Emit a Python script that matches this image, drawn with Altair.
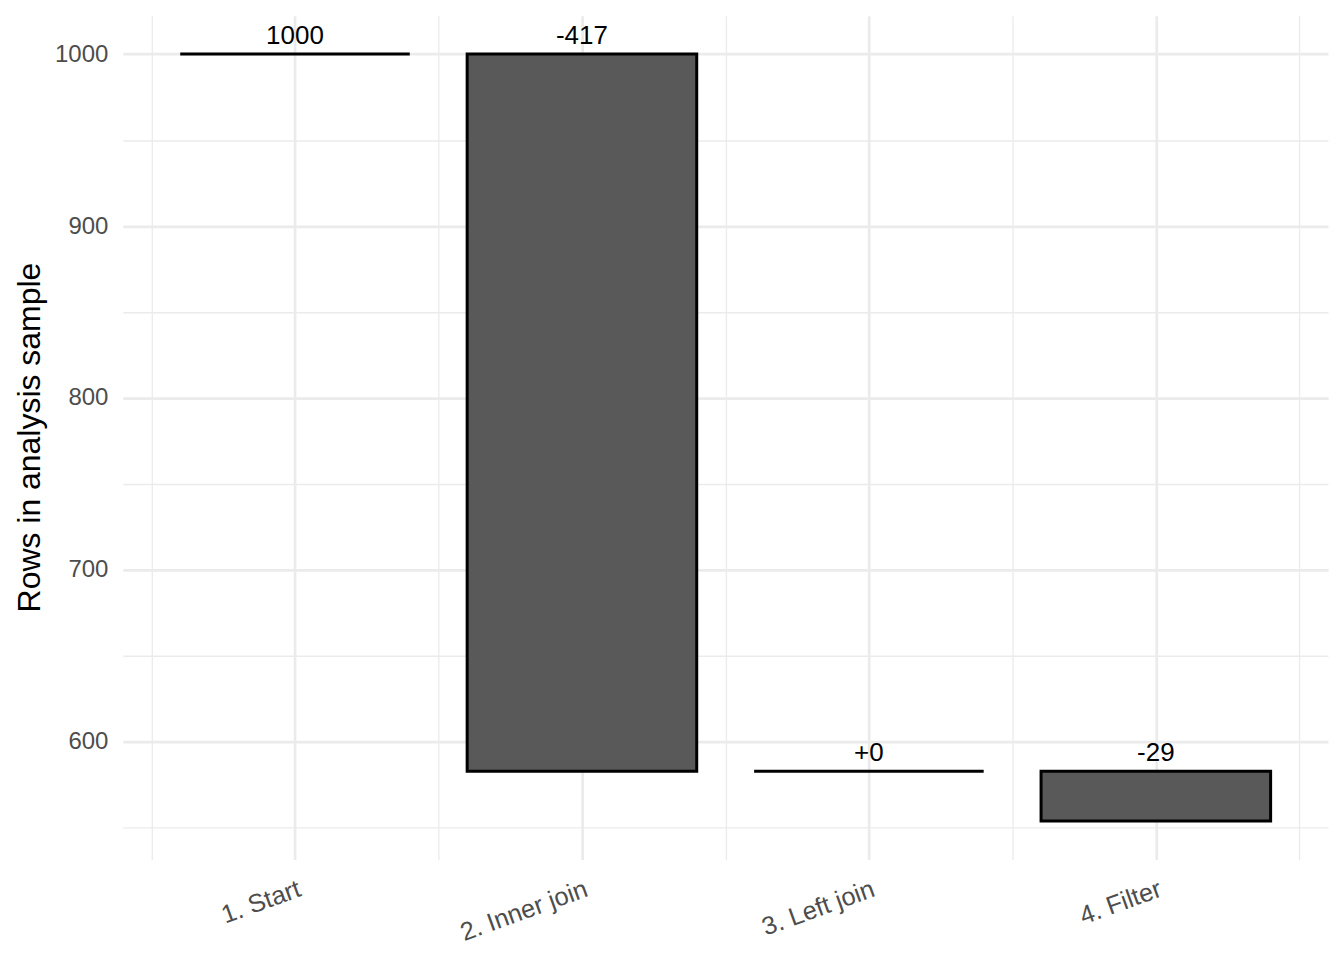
import altair as alt
import pandas as pd

# ---- data ----
steps = ["1. Start", "2. Inner join", "3. Left join", "4. Filter"]
rows_after = [1000, 583, 583, 554]

# ---- derived table ----
recs = []
prev = None
for i, (name, r) in enumerate(zip(steps, rows_after)):
    pos = i + 1
    if prev is None:
        start, label = r, str(r)
    else:
        start = prev
        d = r - prev
        label = f"{d:+d}"
    recs.append({
        "step": name, "pos": pos,
        "x0": pos - 0.4, "x1": pos + 0.4,
        "y0": start, "y1": r,
        "top": max(start, r), "label": label,
    })
    prev = r
df = pd.DataFrame(recs)

ymin, ymax = min(rows_after), max(rows_after)
pad = 0.05 * (ymax - ymin)
ydom = [ymin - pad, ymax + pad]

FONT = "Liberation Sans"
names_js = "[" + ",".join(f"'{s}'" for s in steps) + "]"

x_axis = alt.Axis(
    values=[0.5, 1, 1.5, 2, 2.5, 3, 3.5, 4, 4.5],
    labelExpr=f"datum.value % 1 === 0 ? {names_js}[datum.value - 1] : ''",
    title=None, ticks=False, domain=False,
    labelAngle=340, labelAlign="right", labelBaseline="top",
    labelPadding=17, labelOffset=0, labelFontSize=25.5, labelColor="#4D4D4D",
    labelFont=FONT, labelOverlap=False, labelFlush=False,
    grid=True, gridColor="#EBEBEB",
    gridWidth=alt.condition("datum.value % 1 === 0", alt.value(2.7), alt.value(1.3)),
)
y_axis = alt.Axis(
    values=[550, 600, 650, 700, 750, 800, 850, 900, 950, 1000],
    labelExpr="datum.value % 100 === 0 ? datum.value : ''",
    title="Rows in analysis sample", titleFont=FONT, titleFontSize=32,
    titleFontWeight="normal", titleColor="black", titleAngle=270,
    titleX=-93, titleY=422, titleBaseline="middle", titleAlign="center",
    ticks=False, domain=False, labelPadding=15,
    labelFontSize=24, labelColor="#4D4D4D", labelFont=FONT,
    grid=True, gridColor="#EBEBEB",
    gridWidth=alt.condition("datum.value % 100 === 0", alt.value(2.7), alt.value(1.3)),
)

xs = alt.Scale(domain=[0.4, 4.6], nice=False, zero=False)
ys = alt.Scale(domain=ydom, nice=False, zero=False)

bars = alt.Chart(df).mark_rect(
    fill="#595959", stroke="black", strokeWidth=3
).encode(
    x=alt.X("x0:Q", scale=xs, axis=x_axis),
    x2="x1:Q",
    y=alt.Y("y0:Q", scale=ys, axis=y_axis),
    y2="y1:Q",
)

labels = alt.Chart(df).mark_text(
    font=FONT, fontSize=26, color="black", baseline="alphabetic", dy=-10
).encode(
    x=alt.X("pos:Q", scale=xs),
    y=alt.Y("top:Q", scale=ys),
    text="label:N",
)

chart = alt.layer(bars, labels).properties(
    width=1207, height=845,
    autosize=alt.AutoSizeParams(type="none"),
    padding={"left": 115, "top": 7, "right": 8, "bottom": 92},
).configure(
    background="white",
    view=alt.ViewConfig(stroke="transparent", strokeWidth=0),
)

chart.save("out.html", embed_options={"renderer": "svg", "actions": False})
